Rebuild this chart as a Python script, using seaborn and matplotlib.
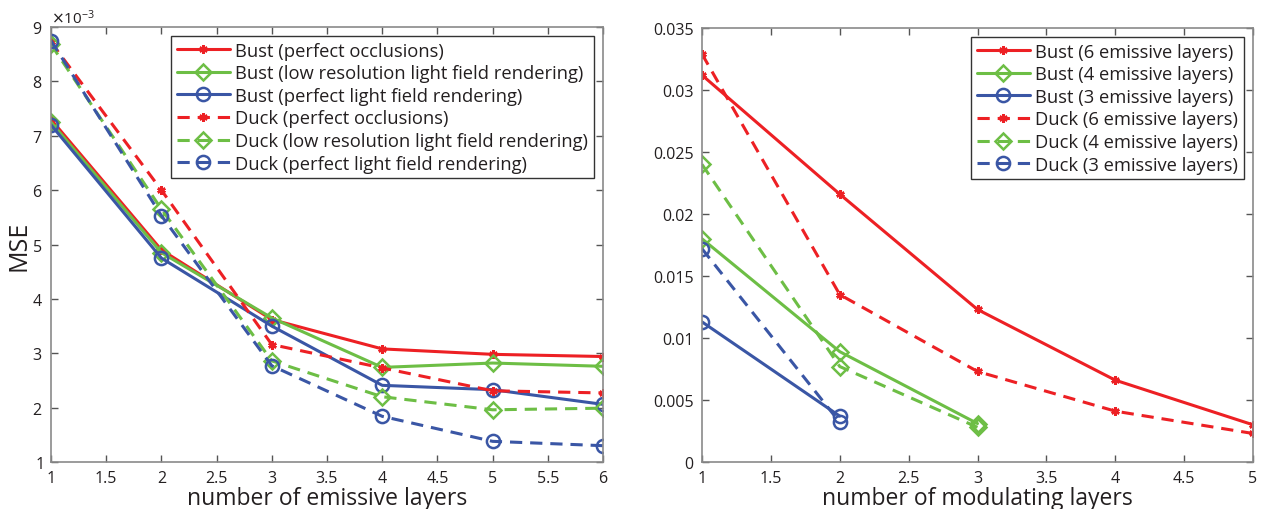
import numpy as np
import pandas as pd
import seaborn as sns
import matplotlib
matplotlib.use("Agg")
import matplotlib.pyplot as plt
from matplotlib.ticker import ScalarFormatter

# ---------------- data ----------------
emissive_layers = [1, 2, 3, 4, 5, 6]
bust_occl = [7.30, 4.90, 3.62, 3.08, 2.98, 2.94]
bust_lowres = [7.25, 4.85, 3.65, 2.74, 2.82, 2.76]
bust_perfect = [7.20, 4.75, 3.50, 2.41, 2.33, 2.06]
duck_occl = [8.72, 6.00, 3.16, 2.73, 2.31, 2.27]
duck_lowres = [8.68, 5.65, 2.86, 2.20, 1.96, 1.99]
duck_perfect = [8.75, 5.53, 2.77, 1.84, 1.38, 1.30]
left_labels = [
    "Bust (perfect occlusions)",
    "Bust (low resolution light field rendering)",
    "Bust (perfect light field rendering)",
    "Duck (perfect occlusions)",
    "Duck (low resolution light field rendering)",
    "Duck (perfect light field rendering)",
]
left_xticks = [1, 1.5, 2, 2.5, 3, 3.5, 4, 4.5, 5, 5.5, 6]
left_yticks = [1, 2, 3, 4, 5, 6, 7, 8, 9]

mod_x6 = [1, 2, 3, 4, 5]
mod_x4 = [1, 2, 3]
mod_x3 = [1, 2]
bust6 = [0.0312, 0.0216, 0.0123, 0.0066, 0.0030]
bust4 = [0.0180, 0.0089, 0.0031]
bust3 = [0.0113, 0.0037]
duck6 = [0.0329, 0.0135, 0.0073, 0.0041, 0.0023]
duck4 = [0.0240, 0.0077, 0.0028]
duck3 = [0.0172, 0.0032]
right_labels = [
    "Bust (6 emissive layers)",
    "Bust (4 emissive layers)",
    "Bust (3 emissive layers)",
    "Duck (6 emissive layers)",
    "Duck (4 emissive layers)",
    "Duck (3 emissive layers)",
]
right_xticks = [1, 1.5, 2, 2.5, 3, 3.5, 4, 4.5, 5]
right_yticks = [0, 0.005, 0.01, 0.015, 0.02, 0.025, 0.03, 0.035]
right_yticklabels = ["0", "0.005", "0.01", "0.015", "0.02", "0.025", "0.03", "0.035"]

RED = "#ED2024"
GREEN = "#6DBE45"
BLUE = "#3A56A5"
TXT = "#231F20"
SPINE = "#8A8A8A"

sns.set_theme(style="ticks")
plt.rcParams["font.family"] = ["Open Sans", "DejaVu Sans"]
plt.rcParams["text.color"] = TXT
plt.rcParams["axes.labelcolor"] = TXT
plt.rcParams["xtick.color"] = TXT
plt.rcParams["ytick.color"] = TXT

fig = plt.figure(figsize=(12.61, 5.10), dpi=100)
axL = fig.add_axes([51 / 1261, 47 / 510, 552 / 1261, 435 / 510])
axR = fig.add_axes([702 / 1261, 47 / 510, 551 / 1261, 434 / 510])

DASH = (0, (4.0, 2.6))
styles = [
    (RED, (6, 2, 0), 6, "-"),
    (GREEN, "D", 8.5, "-"),
    (BLUE, "o", 9.5, "-"),
    (RED, (6, 2, 0), 6, DASH),
    (GREEN, "D", 8.5, DASH),
    (BLUE, "o", 9.5, DASH),
]


def draw(ax, xs, ys, style, label):
    color, marker, ms, ls = style
    df = pd.DataFrame({"x": xs, "y": ys})
    sns.lineplot(data=df, x="x", y="y", ax=ax, color=color, marker=marker,
                 markersize=ms, markeredgecolor=color, markerfacecolor="none",
                 markeredgewidth=1.8, linewidth=2.2, linestyle=ls, label=label,
                 errorbar=None, sort=False)


left_series = [bust_occl, bust_lowres, bust_perfect, duck_occl, duck_lowres, duck_perfect]
for ys, st, lab in zip(left_series, styles, left_labels):
    draw(axL, emissive_layers, [v * 1e-3 for v in ys], st, lab)

right_x = [mod_x6, mod_x4, mod_x3, mod_x6, mod_x4, mod_x3]
right_series = [bust6, bust4, bust3, duck6, duck4, duck3]
for xs, ys, st, lab in zip(right_x, right_series, styles, right_labels):
    draw(axR, xs, ys, st, lab)

# ---------- left axis formatting ----------
axL.set_xlim(1, 6)
axL.set_ylim(1e-3, 9e-3)
axL.set_xticks(left_xticks)
axL.set_xticklabels([f"{v:g}" for v in left_xticks])
axL.set_yticks([v * 1e-3 for v in left_yticks])
fmt = ScalarFormatter(useMathText=True)
fmt.set_powerlimits((-3, -3))
axL.yaxis.set_major_formatter(fmt)
axL.yaxis.get_offset_text().set_fontsize(11)
axL.set_xlabel("number of emissive layers", fontsize=16.5, labelpad=0)
axL.set_ylabel("MSE", fontsize=18)
axL.yaxis.set_label_coords(-0.036, 0.5)

# ---------- right axis formatting ----------
axR.set_xlim(1, 5)
axR.set_ylim(0, 0.035)
axR.set_xticks(right_xticks)
axR.set_xticklabels([f"{v:g}" for v in right_xticks])
axR.set_yticks(right_yticks)
axR.set_yticklabels(right_yticklabels)
axR.set_xlabel("number of modulating layers", fontsize=16.5, labelpad=0)
axR.set_ylabel("")

for ax in (axL, axR):
    for sp in ax.spines.values():
        sp.set_visible(True)
        sp.set_color(SPINE)
        sp.set_linewidth(1.2)
    ax.tick_params(direction="in", top=True, right=True, length=5, width=1,
                   color="#555555", labelsize=11.5, pad=6)
    ax.grid(False)
    leg = ax.legend(loc="upper right", fontsize=13.2, handlelength=2.9,
                    frameon=True, fancybox=False, borderpad=0.3,
                    labelspacing=0.25, handletextpad=0.3, borderaxespad=0.5)
    leg.get_frame().set_edgecolor("#333333")
    leg.get_frame().set_linewidth(1.0)
    leg.get_frame().set_alpha(1)

fig.savefig("out.png", dpi=100)
